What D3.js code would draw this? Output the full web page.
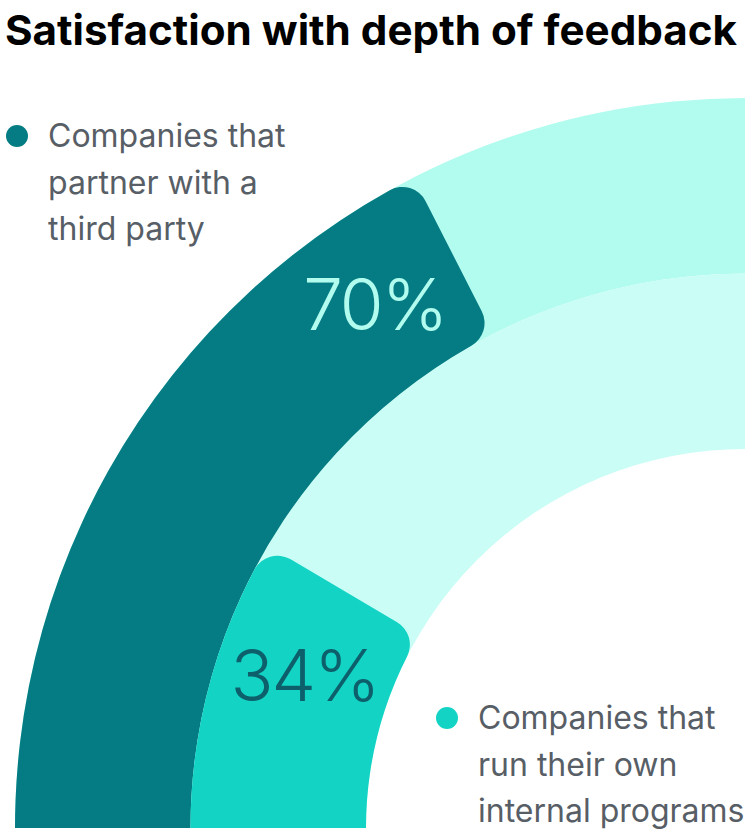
<!DOCTYPE html>
<meta charset="utf-8">
<title>Satisfaction with depth of feedback</title>
<style>
  body { margin: 0; background: #fff; }
  text { font-family: Inter, "Noto Sans", sans-serif; }
</style>
<body>
  <script src="https://d3js.org/d3.v7.min.js"></script>
  <script>
    const width = 749;
    const height = 833;

    // data
    const groups = ["Companies that partner with a third party", "Companies that run their own internal programs"];
    const values = [70, 34];
    const valueLabels = ["70%", "34%"];
    const legendLines = [
      ["Companies that", "partner with a", "third party"],
      ["Companies that", "run their own", "internal programs"]
    ];

    // colours per ring
    const fillColors = ["#057c83", "#13d4c4"];
    const trackColors = ["#b2fcef", "#c9fdf5"];
    const valueColors = ["#b2fcef", "#0c5f6b"];

    // centre of the quarter circle sits at bottom right
    const cx = 745, cy = 828;

    const svg = d3.select("body")
      .append("svg")
      .attr("width", width)
      .attr("height", height);

    // title
    svg.append("text")
      .attr("x", 5)
      .attr("y", 45)
      .attr("font-size", 41)
      .attr("font-weight", 700)
      .attr("fill", "#000")
      .attr("textLength", 732)
      .attr("lengthAdjust", "spacingAndGlyphs")
      .text("Satisfaction with depth of feedback");

    // ring radii: first group gets the outer band
    const ringScale = d3.scaleBand()
      .domain(groups)
      .range([730, 379]);

    // 0..100% maps to a quarter turn, from west to north
    const angle = d3.scaleLinear()
      .domain([0, 100])
      .range([-Math.PI / 2, 0]);

    const rings = groups.map((name, i) => ({
      name,
      value: values[i],
      inner: ringScale(name),
      outer: ringScale(name) + ringScale.bandwidth(),
      i
    }));

    svg.append("clipPath")
      .attr("id", "top-half")
      .append("rect")
      .attr("x", 0)
      .attr("y", 0)
      .attr("width", width)
      .attr("height", cy);

    const g = svg.append("g")
      .attr("transform", `translate(${cx},${cy})`);

    // tracks
    g.selectAll("path.track")
      .data(rings)
      .enter()
      .append("path")
      .attr("class", "track")
      .attr("d", d => d3.arc()({
        innerRadius: d.inner,
        outerRadius: d.outer,
        startAngle: angle(0),
        endAngle: angle(100)
      }))
      .attr("fill", d => trackColors[d.i]);

    // value bars, rounded at the far end, square where they meet the bottom
    const barG = svg.append("g")
      .attr("clip-path", "url(#top-half)")
      .append("g")
      .attr("transform", `translate(${cx},${cy})`);

    barG.selectAll("path.bar")
      .data(rings)
      .enter()
      .append("path")
      .attr("class", "bar")
      .attr("d", d => d3.arc().cornerRadius(26)({
        innerRadius: d.inner,
        outerRadius: d.outer,
        startAngle: angle(-15),
        endAngle: angle(d.value)
      }))
      .attr("fill", d => fillColors[d.i]);

    // value labels, placed inside the bar a little before its end
    const labelG = svg.append("g")
      .attr("transform", `translate(${cx},${cy})`);

    labelG.selectAll("text.value")
      .data(rings)
      .enter()
      .append("text")
      .attr("class", "value")
      .attr("transform", d => {
        const r = (d.inner + d.outer) / 2;
        const a = angle(d.value) - 92 / r;
        return `translate(${r * Math.sin(a)},${-r * Math.cos(a)})`;
      })
      .attr("text-anchor", "middle")
      .attr("dy", "0.38em")
      .attr("font-size", 71)
      .attr("font-weight", 300)
      .attr("letter-spacing", -2)
      .attr("fill", d => valueColors[d.i])
      .text(d => valueLabels[d.i]);

    // legends
    const legendPos = [{x: 17, y: 147}, {x: 447, y: 729}];
    const legend = svg.selectAll("g.legend")
      .data(rings)
      .enter()
      .append("g")
      .attr("class", "legend")
      .attr("transform", d => `translate(${legendPos[d.i].x},${legendPos[d.i].y})`);

    legend.append("circle")
      .attr("cx", 0)
      .attr("cy", -11)
      .attr("r", 11)
      .attr("fill", d => fillColors[d.i]);

    legend.append("text")
      .attr("font-size", 32)
      .attr("fill", "#585e66")
      .selectAll("tspan")
      .data(d => legendLines[d.i])
      .enter()
      .append("tspan")
      .attr("x", 31)
      .attr("dy", (d, j) => j === 0 ? 0 : 46.5)
      .text(d => d);
  </script>
</body>
